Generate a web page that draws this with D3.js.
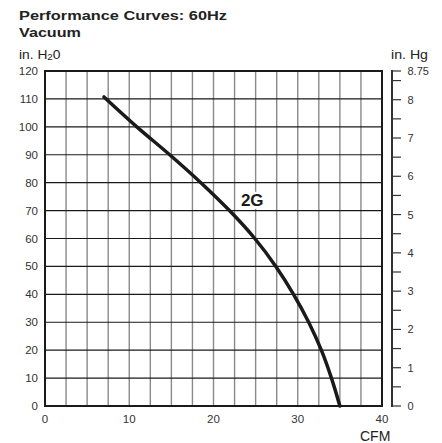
<!DOCTYPE html>
<html>
<head>
<meta charset="utf-8">
<script src="https://cdn.jsdelivr.net/npm/d3@7"></script>
<style>
  body { margin: 0; background: #fff; }
  svg { font-family: "Liberation Sans", Arial, sans-serif; }
</style>
</head>
<body>
<svg id="chart"></svg>
<script>
// vacuum performance curve, 60Hz

const width = 442;
const height = 443;

// curve (CFM vs in. H2O)
const cfm = [7, 10.9, 14.8, 18.5, 21.9, 24.9, 27.4, 29.5, 31.3, 32.8, 34, 35];
const inH2O = [110.7, 100, 90, 80, 70, 60, 50, 40, 30, 20, 10, 0];
const curveLabel = '2G';
const curveLabelAt = [24.6, 71.7];

const xTicks = [0, 10, 20, 30, 40];
const yTicks = [0, 10, 20, 30, 40, 50, 60, 70, 80, 90, 100, 110, 120];
const hgTicks = d3.range(0, 8.75, 0.5).concat([8.75]);
const hgLabels = [0, 1, 2, 3, 4, 5, 6, 7, 8, 8.75];

const margin = { top: 71, left: 45, right: 60, bottom: 37 };
const plotW = 382 - margin.left;
const plotH = 406 - margin.top;

const svg = d3.select('#chart')
  .attr('width', width)
  .attr('height', height);

const x = d3.scaleLinear().domain([0, 40]).range([margin.left, margin.left + plotW]);
const y = d3.scaleLinear().domain([0, 120]).range([margin.top + plotH, margin.top]);
const yHg = d3.scaleLinear().domain([0, 8.75]).range([margin.top + plotH, margin.top]);

// titles (the original face is wider than Arial, so stretch to the measured width)
svg.append('text').attr('x', 19).attr('y', 20)
  .attr('font-size', 13).attr('font-weight', 'bold').attr('fill', '#222')
  .attr('textLength', 208).attr('lengthAdjust', 'spacingAndGlyphs')
  .text('Performance Curves: 60Hz');
svg.append('text').attr('x', 19).attr('y', 36.5)
  .attr('font-size', 13).attr('font-weight', 'bold').attr('fill', '#222')
  .attr('textLength', 62).attr('lengthAdjust', 'spacingAndGlyphs')
  .text('Vacuum');

const unitL = svg.append('text')
  .attr('transform', 'translate(19,59) scale(1.15,1)')
  .attr('font-size', 12).attr('fill', '#222');
unitL.append('tspan').text('in. H');
unitL.append('tspan').attr('font-size', 8.5).attr('dy', 1).text('2');
unitL.append('tspan').attr('dy', -1).text('0');

svg.append('text').attr('x', 391).attr('y', 59)
  .attr('font-size', 12).attr('fill', '#222')
  .attr('textLength', 37).attr('lengthAdjust', 'spacingAndGlyphs')
  .text('in. Hg');

svg.append('text').attr('x', 360).attr('y', 441)
  .attr('font-size', 14).attr('fill', '#222')
  .text('CFM');

// grid
const grid = svg.append('g');
grid.selectAll('line.v')
  .data(d3.range(2.5, 40, 2.5))
  .join('line')
  .attr('class', 'v')
  .attr('x1', d => x(d)).attr('x2', d => x(d))
  .attr('y1', y(0)).attr('y2', y(120))
  .attr('stroke', '#8a8a8a').attr('stroke-width', 1.4);

grid.selectAll('line.h')
  .data(d3.range(10, 120, 10))
  .join('line')
  .attr('class', 'h')
  .attr('x1', x(0)).attr('x2', x(40))
  .attr('y1', d => y(d)).attr('y2', d => y(d))
  .attr('stroke', '#1a1a1a').attr('stroke-width', 1.1);

// frame
svg.append('rect')
  .attr('x', x(0)).attr('y', y(120))
  .attr('width', x(40) - x(0)).attr('height', y(0) - y(120))
  .attr('fill', 'none').attr('stroke', '#1a1a1a').attr('stroke-width', 2);

// left labels
svg.append('g').selectAll('text')
  .data(yTicks)
  .join('text')
  .attr('x', 38).attr('y', d => y(d) + 4)
  .attr('text-anchor', 'end')
  .attr('font-size', 11.5).attr('fill', '#333')
  .text(d => d);

// bottom labels
svg.append('g').selectAll('text')
  .data(xTicks)
  .join('text')
  .attr('x', d => x(d)).attr('y', 423)
  .attr('text-anchor', 'middle')
  .attr('font-size', 11.5).attr('fill', '#333')
  .text(d => d);

// right in. Hg axis
const hg = svg.append('g');
hg.append('line')
  .attr('x1', 392).attr('x2', 392)
  .attr('y1', yHg(0) + 1).attr('y2', yHg(8.75) - 1)
  .attr('stroke', '#333').attr('stroke-width', 2);
hg.selectAll('line.t')
  .data(hgTicks)
  .join('line')
  .attr('class', 't')
  .attr('x1', 392).attr('x2', 401)
  .attr('y1', d => yHg(d)).attr('y2', d => yHg(d))
  .attr('stroke', '#333').attr('stroke-width', 1.2);
hg.selectAll('text')
  .data(hgLabels)
  .join('text')
  .attr('x', 407.5).attr('y', d => yHg(d) + 4)
  .attr('font-size', 11).attr('fill', '#333')
  .text(d => d);

// curve
const line = d3.line()
  .x(d => x(d[0]))
  .y(d => y(d[1]))
  .curve(d3.curveCatmullRom.alpha(0.5));

svg.append('path')
  .datum(d3.zip(cfm, inH2O))
  .attr('d', line)
  .attr('fill', 'none')
  .attr('stroke', '#1a1a1a')
  .attr('stroke-width', 3.5)
  .attr('stroke-linecap', 'round');

// curve label with white backing
const lx = x(curveLabelAt[0]);
const ly = y(curveLabelAt[1]);
svg.append('rect')
  .attr('x', lx - 13).attr('y', ly - 14)
  .attr('width', 26).attr('height', 17)
  .attr('fill', '#fff');
svg.append('text')
  .attr('x', lx).attr('y', ly)
  .attr('text-anchor', 'middle')
  .attr('font-size', 17).attr('font-weight', 'bold').attr('fill', '#1a1a1a')
  .text(curveLabel);
</script>
</body>
</html>
